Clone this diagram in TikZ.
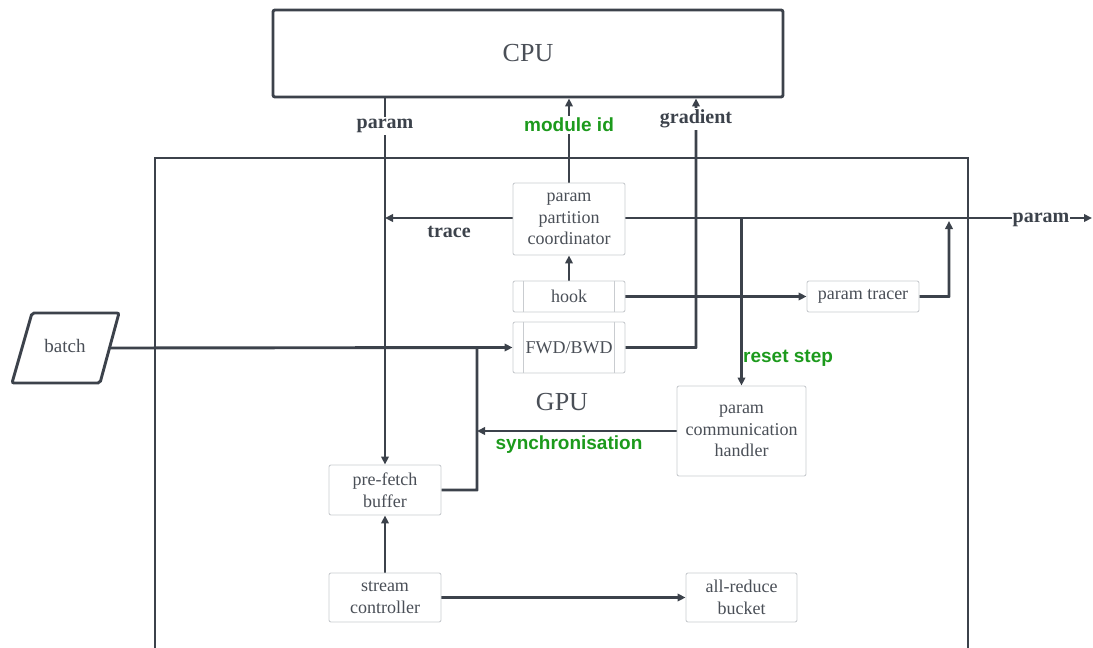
\documentclass[tikz,border=0pt]{standalone}
\usepackage{fontspec}
\setmainfont{Liberation Serif}
\newfontfamily\tagfont{Liberation Sans}
\usetikzlibrary{arrows.meta}
\pgfdeclarelayer{wires}
\pgfsetlayers{wires,main}
\definecolor{ink}{HTML}{3C424B}
\definecolor{txt}{HTML}{4A4F57}
\definecolor{edge}{HTML}{C9CCD0}
\definecolor{grn}{HTML}{1C9A1C}
\begin{document}
\begin{tikzpicture}[x=1pt,y=-1pt,
  wire/.style={draw=ink,line width=2.9pt},
  conn/.style={wire,-{Triangle[length=8pt,width=7.5pt]}},
  box/.style={draw=edge,line width=0.9pt,rounded corners=2pt,fill=white,
    text=txt,font=\fontsize{18}{21.6}\selectfont,align=center,inner sep=0pt},
  procline/.style={draw=edge,line width=0.9pt},
  boldtag/.style={text=ink,font=\fontsize{20}{24}\selectfont\bfseries,inner sep=2pt},
  greentag/.style={text=grn,font=\fontsize{19}{23}\selectfont\tagfont\bfseries,inner sep=2pt},
  bigtext/.style={text=txt,font=\fontsize{26}{30}\selectfont}]
\useasboundingbox (0,0) rectangle (1093,648);

% CPU
\node[box,draw=ink,line width=2.9pt,minimum width=510pt,minimum height=87pt,
  font=\fontsize{26}{30}\selectfont] (cpu) at (528,53.5) {CPU};

% batch input (parallelogram drawn directly, text and exit point named)
\draw[ink,line width=2.9pt,rounded corners=2pt,fill=white]
  (32,313) -- (119,313) -- (100,383) -- (12,383) -- cycle;
\node[text=txt,font=\fontsize{19}{23}\selectfont] (batch) at (65,346) {batch};
\coordinate (batchR) at (110,348);

% helper columns and free ends
\coordinate (gx) at (696,0);
\coordinate (tx) at (949,0);
\coordinate (sx) at (477,0);
\coordinate (outR) at (1092,218);

% boxes
\node[box,minimum width=112pt,minimum height=72pt] (ppc) at (569,219) {param\\partition\\coordinator};
\node[box,minimum width=112pt,minimum height=31pt] (hook) at (569,296.5) {hook};
\node[box,minimum width=112pt,minimum height=51pt] (fwd) at (569,347.5) {FWD/BWD};
\node[box,minimum width=112pt,minimum height=31pt] (tracer) at (863,296.5) {param tracer};
\node[box,minimum width=129pt,minimum height=90pt] (pch) at (741.5,431) {param\\communication\\handler};
\node[box,minimum width=112pt,minimum height=50pt] (pfb) at (385,490) {pre-fetch\\buffer};
\node[box,minimum width=112pt,minimum height=49pt] (sc) at (385,597.5) {stream\\controller};
\node[box,minimum width=111pt,minimum height=49pt] (arb) at (741.5,597.5) {all-reduce\\bucket};

% process-box side bars
\draw[procline] ([xshift=11pt]hook.north west) -- ([xshift=11pt]hook.south west);
\draw[procline] ([xshift=-11pt]hook.north east) -- ([xshift=-11pt]hook.south east);
\draw[procline] ([xshift=11pt]fwd.north west) -- ([xshift=11pt]fwd.south west);
\draw[procline] ([xshift=-11pt]fwd.north east) -- ([xshift=-11pt]fwd.south east);

% wires sit beneath the boxes
\begin{pgfonlayer}{wires}
  % GPU frame (open at the bottom)
  \draw[wire] (155,660) -- (155,158) -- (968,158) -- (968,660);
  \draw[conn] (cpu.south -| pfb.north) -- (pfb.north);
  \draw[conn] (ppc.north) -- (ppc.north |- cpu.south);
  \draw[conn,rounded corners=0.1pt] (fwd.east) -- (fwd.east -| gx) -- (gx |- cpu.south);
  \draw[conn] (ppc.west |- outR) -- (outR -| pfb.north);
  \draw[conn] (hook.north) -- (ppc.south);
  \draw[conn] (ppc.east |- outR) -- (outR);
  \draw[conn] (hook.east) -- (tracer.west);
  \draw[conn,rounded corners=0.1pt] (tracer.east) -- (tracer.east -| tx) -- ([yshift=-3pt]tx |- outR);
  \draw[conn] (outR -| pch.north) -- (pch.north);
  \draw[conn] (batchR) -- (fwd.west);
  \draw[conn] (pch.west) -- (pch.west -| sx);
  \draw[wire,rounded corners=0.1pt] (pfb.east) -- (pfb.east -| sx) -- (sx |- fwd.west);
  \draw[conn] (sc.north) -- (pfb.south);
  \draw[conn] (sc.east) -- (arb.west);
\end{pgfonlayer}

% labels
\node[boldtag,fill=white] (lparam) at (385,126) {param};
\node[greentag,fill=white] (lmodule) at (569,125) {module id};
\node[boldtag,fill=white] (lgrad) at (696,119) {gradient};
\node[boldtag] (ltrace) at (449,232) {trace};
\node[boldtag,fill=white,inner sep=1pt] (lout) at (1041,220) {param};
\node[greentag,anchor=west] (lreset) at (741,358) {reset step};
\node[greentag] (lsync) at (569,445) {synchronisation};
\node[bigtext] (lgpu) at (562,402) {GPU};
\end{tikzpicture}
\end{document}
